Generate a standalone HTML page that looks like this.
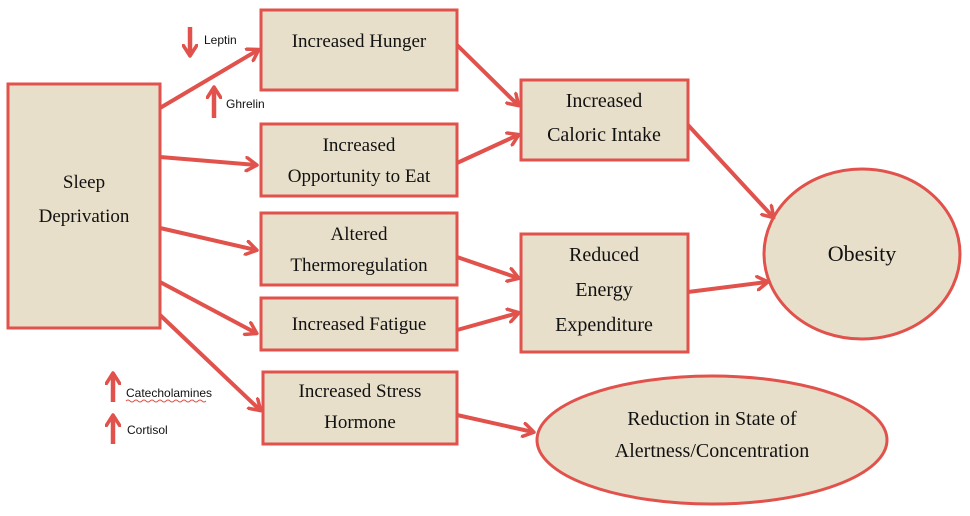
<!DOCTYPE html>
<html><head><style>body{margin:0;background:#fff}svg{display:block}</style></head><body>
<svg width="970" height="516" viewBox="0 0 970 516" xmlns="http://www.w3.org/2000/svg">
<defs><marker id="a" markerWidth="14" markerHeight="16" refX="11" refY="8" orient="auto" markerUnits="userSpaceOnUse"><path d="M1,1 L12,8 L1,15" fill="none" stroke="#e0524b" stroke-width="3.5" stroke-linecap="round" stroke-linejoin="round"/></marker></defs>
<g fill="#e8dfcb" stroke="#e0524b" stroke-width="3">
<rect x="8" y="84" width="152" height="244"/>
<rect x="261" y="10" width="196" height="80"/>
<rect x="261" y="124" width="196" height="72"/>
<rect x="261" y="213" width="196" height="72"/>
<rect x="261" y="298" width="196" height="52"/>
<rect x="263" y="372" width="194" height="72"/>
<rect x="521" y="80" width="167" height="80"/>
<rect x="521" y="234" width="167" height="118"/>
<ellipse cx="862" cy="254" rx="98" ry="85"/>
<ellipse cx="712" cy="440" rx="175" ry="64"/>
</g>
<g stroke="#e0524b" stroke-width="4" fill="none" marker-end="url(#a)">
<line x1="160" y1="108" x2="258" y2="50"/>
<line x1="160" y1="157" x2="256" y2="165"/>
<line x1="160" y1="228" x2="256" y2="250"/>
<line x1="160" y1="282" x2="256" y2="333"/>
<line x1="160" y1="315" x2="260" y2="410"/>
<line x1="457" y1="45" x2="518" y2="105"/>
<line x1="457" y1="163" x2="518" y2="135"/>
<line x1="457" y1="257" x2="518" y2="278"/>
<line x1="457" y1="330" x2="518" y2="313"/>
<line x1="688" y1="125" x2="773" y2="217"/>
<line x1="688" y1="292" x2="767" y2="282"/>
<line x1="457" y1="415" x2="533" y2="432"/>
</g>
<g stroke="#e0524b" stroke-width="4.5" fill="none" marker-end="url(#a)">
<line x1="190" y1="27" x2="190" y2="55"/>
<line x1="214" y1="118" x2="214" y2="88"/>
<line x1="113" y1="402" x2="113" y2="374"/>
<line x1="113" y1="444" x2="113" y2="416"/>
</g>
<g font-family="Liberation Serif, serif" font-size="19" fill="#111" text-anchor="middle">
<text x="84" y="188">Sleep</text><text x="84" y="222">Deprivation</text>
<text x="359" y="47">Increased Hunger</text>
<text x="359" y="151">Increased</text><text x="359" y="182">Opportunity to Eat</text>
<text x="359" y="240">Altered</text><text x="359" y="271">Thermoregulation</text>
<text x="359" y="330">Increased Fatigue</text>
<text x="360" y="397">Increased Stress</text><text x="360" y="428">Hormone</text>
<text x="604" y="107" font-size="20">Increased</text><text x="604" y="141" font-size="20">Caloric Intake</text>
<text x="604" y="261" font-size="20">Reduced</text><text x="604" y="296" font-size="20">Energy</text><text x="604" y="331" font-size="20">Expenditure</text>
<text x="862" y="261" font-size="22">Obesity</text>
<text x="712" y="425" font-size="20">Reduction in State of</text><text x="712" y="457" font-size="20">Alertness/Concentration</text>
</g>
<g font-family="Liberation Sans, sans-serif" font-size="12" fill="#111">
<text x="204" y="44">Leptin</text>
<text x="226" y="108">Ghrelin</text>
<text x="126" y="397">Catecholamines</text>
<text x="127" y="434">Cortisol</text>
</g>
<path d="M126 401 q2 -2 4 0 t4 0 t4 0 t4 0 t4 0 t4 0 t4 0 t4 0 t4 0 t4 0 t4 0 t4 0 t4 0 t4 0 t4 0 t4 0 t4 0 t4 0 t4 0 t4 0" fill="none" stroke="#e0524b" stroke-width="1"/>
</svg>
</body></html>
